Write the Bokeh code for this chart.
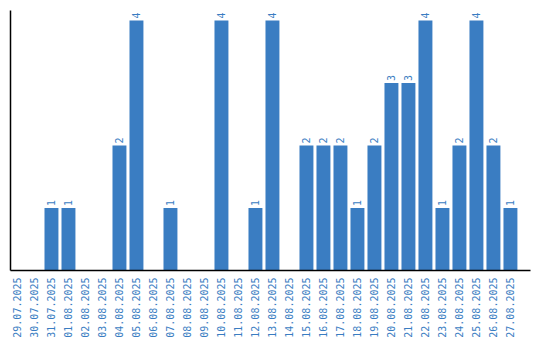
import math
from bokeh.plotting import figure
from bokeh.models import ColumnDataSource, Range1d, FixedTicker
from bokeh.core.properties import value
from bokeh.embed import file_html
from bokeh.resources import INLINE

dates = ["29.07.2025", "30.07.2025", "31.07.2025", "01.08.2025", "02.08.2025",
         "03.08.2025", "04.08.2025", "05.08.2025", "06.08.2025", "07.08.2025",
         "08.08.2025", "09.08.2025", "10.08.2025", "11.08.2025", "12.08.2025",
         "13.08.2025", "14.08.2025", "15.08.2025", "16.08.2025", "17.08.2025",
         "18.08.2025", "19.08.2025", "20.08.2025", "21.08.2025", "22.08.2025",
         "23.08.2025", "24.08.2025", "25.08.2025", "26.08.2025", "27.08.2025"]
counts = [0, 0, 1, 1, 0, 0, 2, 4, 0, 1, 0, 0, 4, 0, 1, 4, 0, 2, 2, 2,
          1, 2, 3, 3, 4, 1, 2, 4, 2, 1]

BLUE = "#3a7dc2"
FONT = "DejaVu Sans Mono"

idx = list(range(len(dates)))
src = ColumnDataSource(dict(x=idx, top=counts))
lab_x = [i for i, c in zip(idx, counts) if c > 0]
lab_y = [c for c in counts if c > 0]
lab_t = [str(c) for c in counts if c > 0]
lab_src = ColumnDataSource(dict(x=lab_x, y=lab_y, t=lab_t))

p = figure(width=540, height=340, output_backend="svg", toolbar_location=None,
           x_range=Range1d(-0.41, 30.18), y_range=Range1d(0, 4.16),
           min_border_left=10, min_border_top=10, min_border_right=10,
           min_border_bottom=0)
p.outline_line_color = None
p.grid.visible = False
p.background_fill_color = "white"
p.border_fill_color = "white"

p.vbar(x="x", top="top", bottom=0, width=0.82, source=src,
       fill_color=BLUE, line_color=None)
p.text(x="x", y="y", text="t", source=lab_src, angle=math.pi / 2,
       text_align="left", text_baseline="middle", y_offset=-2,
       text_color=BLUE, text_font=value(FONT), text_font_size="10px")

xa = p.xaxis[0]
xa.ticker = FixedTicker(ticks=idx)
xa.major_label_overrides = {i: d for i, d in zip(idx, dates)}
xa.major_label_orientation = math.pi / 2
xa.major_label_text_color = BLUE
xa.major_label_text_font = FONT
xa.major_label_text_font_size = "10px"
xa.major_tick_out = 0
xa.major_tick_in = 0
xa.minor_tick_out = 0
xa.minor_tick_in = 0
xa.major_label_standoff = 7
xa.axis_line_color = "black"
xa.axis_line_width = 1.5

ya = p.yaxis[0]
ya.ticker = FixedTicker(ticks=[])
ya.major_tick_out = 0
ya.major_tick_in = 0
ya.minor_tick_out = 0
ya.minor_tick_in = 0
ya.major_label_standoff = 0
ya.axis_line_color = "black"
ya.axis_line_width = 1.5

open("out.html", "w").write(file_html(p, INLINE))
